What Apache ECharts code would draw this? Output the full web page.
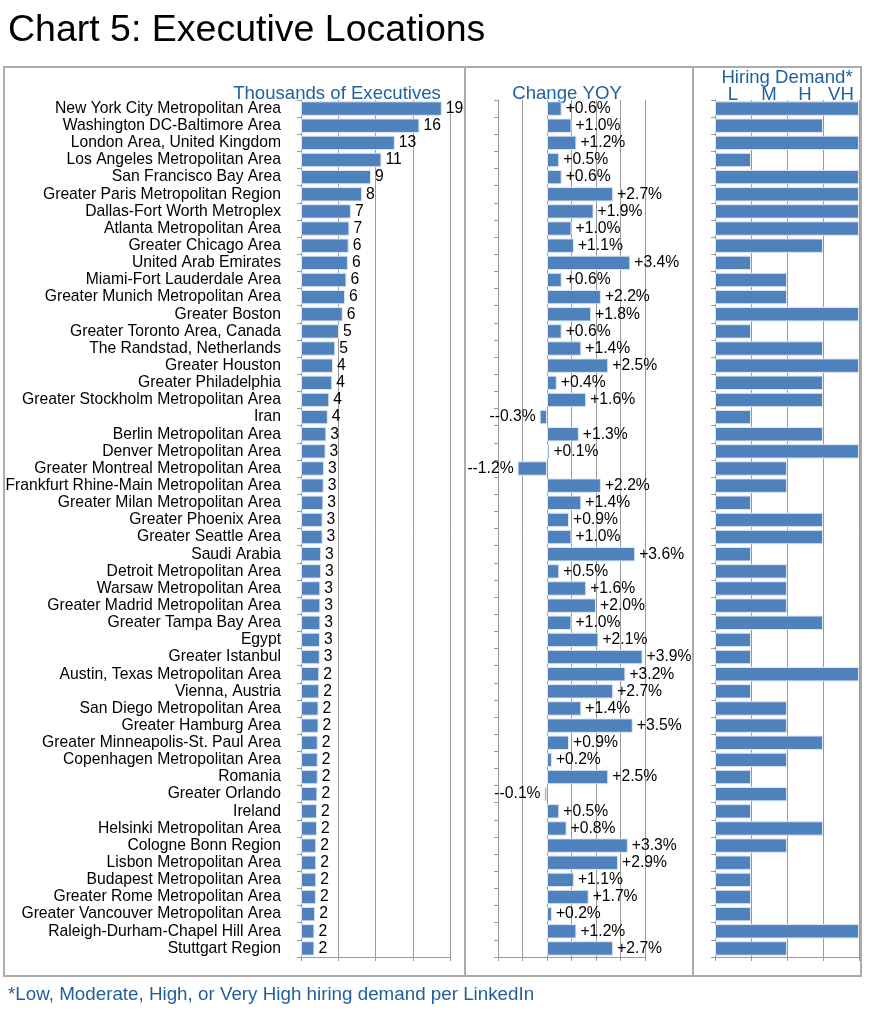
<!DOCTYPE html>
<html>
<head>
<meta charset="utf-8">
<script src="https://cdn.jsdelivr.net/npm/echarts@6/dist/echarts.min.js"></script>
<style>
html,body{margin:0;padding:0;background:#fff;}
#chart{width:869px;height:1024px;}
</style>
</head>
<body>
<div id="chart"></div>
<script>
const categories = [
  "New York City Metropolitan Area","Washington DC-Baltimore Area","London Area, United Kingdom","Los Angeles Metropolitan Area",
  "San Francisco Bay Area","Greater Paris Metropolitan Region","Dallas-Fort Worth Metroplex","Atlanta Metropolitan Area",
  "Greater Chicago Area","United Arab Emirates","Miami-Fort Lauderdale Area","Greater Munich Metropolitan Area",
  "Greater Boston","Greater Toronto Area, Canada","The Randstad, Netherlands","Greater Houston",
  "Greater Philadelphia","Greater Stockholm Metropolitan Area","Iran","Berlin Metropolitan Area",
  "Denver Metropolitan Area","Greater Montreal Metropolitan Area","Frankfurt Rhine-Main Metropolitan Area","Greater Milan Metropolitan Area",
  "Greater Phoenix Area","Greater Seattle Area","Saudi Arabia","Detroit Metropolitan Area",
  "Warsaw Metropolitan Area","Greater Madrid Metropolitan Area","Greater Tampa Bay Area","Egypt",
  "Greater Istanbul","Austin, Texas Metropolitan Area","Vienna, Austria","San Diego Metropolitan Area",
  "Greater Hamburg Area","Greater Minneapolis-St. Paul Area","Copenhagen Metropolitan Area","Romania",
  "Greater Orlando","Ireland","Helsinki Metropolitan Area","Cologne Bonn Region",
  "Lisbon Metropolitan Area","Budapest Metropolitan Area","Greater Rome Metropolitan Area","Greater Vancouver Metropolitan Area",
  "Raleigh-Durham-Chapel Hill Area","Stuttgart Region"
];
// Thousands of executives (labels rounded)
const executives = [
  18.9,15.9,12.6,10.8,9.4,8.2,6.7,6.5,6.4,6.3,6.1,5.9,
  5.6,5.1,4.6,4.3,4.2,3.8,3.6,3.4,3.3,3.1,3.05,3.0,
  2.9,2.9,2.7,2.7,2.6,2.6,2.6,2.55,2.52,2.45,2.45,2.35,
  2.35,2.25,2.25,2.25,2.2,2.15,2.15,2.05,2.05,2.05,2.0,1.9,
  1.8,1.8
];
// Change YOY, percent
const yoy = [
  0.6,1.0,1.2,0.5,0.6,2.7,1.9,1.0,1.1,3.4,0.6,2.2,
  1.8,0.6,1.4,2.5,0.4,1.6,-0.3,1.3,0.1,-1.2,2.2,1.4,
  0.9,1.0,3.6,0.5,1.6,2.0,1.0,2.1,3.9,3.2,2.7,1.4,
  3.5,0.9,0.2,2.5,-0.1,0.5,0.8,3.3,2.9,1.1,1.7,0.2,
  1.2,2.7
];
// Hiring demand: 1=L, 2=M, 3=H, 4=VH
const hiring = [
  4,3,4,1,4,4,4,4,3,1,2,2,
  4,1,3,4,3,3,1,3,4,2,2,1,
  3,3,1,2,2,2,3,1,1,4,1,2,
  2,3,2,1,2,1,3,2,1,1,1,1,
  4,2
];
const hiringLevels = ["L","M","H","VH"];

const FONT = '"Liberation Sans", Arial, Helvetica, sans-serif';
const BLUE_TXT = '#1F5F9E';
const BAR = '#4F81BD';
const GRIDC = '#9a9a9a';

const chart = echarts.init(document.getElementById('chart'), null, {renderer:'canvas'});

const grids = [
  {left:301, top:100, width:149, height:857},
  {left:498, top:100, width:147, height:857},
  {left:715, top:100, width:144, height:857}
];
const ranges = [[0,20,5],[-2,4,1],[0,4,1]];

const xAxes = ranges.map((r,i)=>({
  type:'value', gridIndex:i, min:r[0], max:r[1], interval:r[2],
  axisLabel:{show:false},
  axisLine:{show:true, lineStyle:{color:GRIDC, width:1}},
  axisTick:{show:true, length:4, lineStyle:{color:GRIDC}},
  splitLine:{show:true, lineStyle:{color:GRIDC, width:1}}
}));
xAxes.push({
  type:'value', gridIndex:2, position:'top', min:0, max:4, interval:0.5,
  axisLine:{show:false}, axisTick:{show:false}, splitLine:{show:false},
  axisLabel:{show:true, margin:-4, color:BLUE_TXT, fontSize:18.6, fontFamily:FONT,
    formatter:function(v){ const f=Math.floor(v); return (Math.abs(v-f-0.5)<1e-6) ? hiringLevels[f] : ''; }}
});

const yAxes = [0,1,2].map(i=>({
  type:'category', gridIndex:i, data:categories, inverse:true,
  axisLine:{show:true, onZero:false, lineStyle:{color:GRIDC, width:1}},
  axisTick:{show:true, length:4, interval:0, lineStyle:{color:GRIDC}},
  axisLabel:{show:i===0, interval:0, color:'#000', fontSize:15.7, fontFamily:FONT, margin:20},
  splitLine:{show:false}
}));

const barCommon = {
  type:'bar', barCategoryGap:'16%',
  itemStyle:{color:BAR, borderColor:'#dce6f2', borderWidth:1},
  emphasis:{disabled:true}
};

const option = {
  animation:false,
  backgroundColor:'#fff',
  grid:grids,
  xAxis:xAxes,
  yAxis:yAxes,
  series:[
    Object.assign({}, barCommon, {
      xAxisIndex:0, yAxisIndex:0, data:executives,
      label:{show:true, position:'right', distance:4, color:'#000', fontSize:15.7, fontFamily:FONT,
        formatter:p=>String(Math.round(p.value))}
    }),
    Object.assign({}, barCommon, {
      xAxisIndex:1, yAxisIndex:1,
      data:yoy.map(v=>({value:v, label:{position: v<0 ? 'left' : 'right'}})),
      label:{show:true, distance:4, color:'#000', fontSize:15.7, fontFamily:FONT,
        formatter:p=>(p.value>=0?'+':'-')+p.value.toFixed(1)+'%'}
    }),
    Object.assign({}, barCommon, {
      xAxisIndex:2, yAxisIndex:2, data:hiring, label:{show:false}
    })
  ],
  graphic:[
    {type:'rect', silent:true, shape:{x:4, y:67, width:857, height:909},
      style:{fill:'none', stroke:'#ababab', lineWidth:2}},
    {type:'line', silent:true, shape:{x1:465, y1:67, x2:465, y2:976}, style:{stroke:'#ababab', lineWidth:2}},
    {type:'line', silent:true, shape:{x1:693, y1:67, x2:693, y2:976}, style:{stroke:'#ababab', lineWidth:2}},
    {type:'text', silent:true, style:{text:'Chart 5: Executive Locations', x:8, y:31, font:'37.5px '+FONT, fill:'#000', textAlign:'left', textVerticalAlign:'middle'}},
    {type:'text', silent:true, style:{text:'Thousands of Executives', x:337, y:94, font:'18.6px '+FONT, fill:BLUE_TXT, textAlign:'center', textVerticalAlign:'middle'}},
    {type:'text', silent:true, style:{text:'Change YOY', x:567, y:94, font:'18.6px '+FONT, fill:BLUE_TXT, textAlign:'center', textVerticalAlign:'middle'}},
    {type:'text', silent:true, style:{text:'Hiring Demand*', x:787, y:78, font:'18.6px '+FONT, fill:BLUE_TXT, textAlign:'center', textVerticalAlign:'middle'}},
    {type:'text', silent:true, style:{text:'*Low, Moderate, High, or Very High hiring demand per LinkedIn', x:8, y:995, font:'18.8px '+FONT, fill:BLUE_TXT, textAlign:'left', textVerticalAlign:'middle'}}
  ]
};
chart.setOption(option);
</script>
</body>
</html>
